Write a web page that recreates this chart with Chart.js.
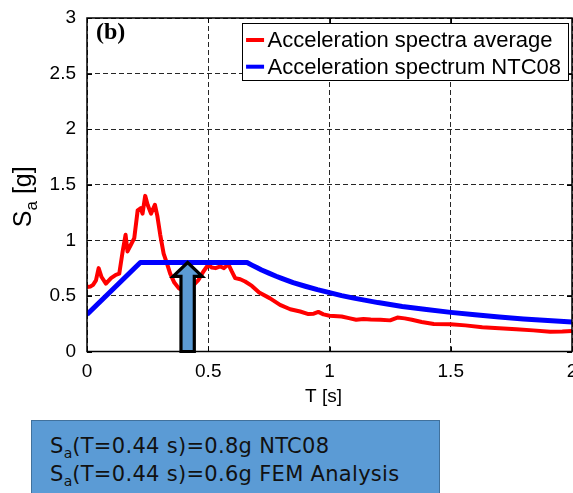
<!DOCTYPE html>
<html><head><meta charset="utf-8">
<script src="https://cdn.jsdelivr.net/npm/chart.js@4.4.1/dist/chart.umd.min.js"></script>
<style>
html,body{margin:0;padding:0;background:#fff;overflow:hidden;width:573px;height:493px;}
#wrap{position:absolute;left:0;top:0;width:577px;height:493px;}
#note{position:absolute;left:31px;top:420px;width:409px;height:90px;background:#5B9BD5;border:1px solid #41719C;box-sizing:border-box;font-family:"DejaVu Sans";font-size:21px;letter-spacing:0.3px;color:#111;}
#note .t{position:absolute;left:18px;top:11px;line-height:28.4px;white-space:nowrap;}
#note sub{font-size:14px;vertical-align:-5px;line-height:0;letter-spacing:0;}
</style></head>
<body>
<div id="wrap"><canvas id="c"></canvas></div>
<div id="note"><div class="t">S<sub>a</sub>(T=0.44 s)=0.8g NTC08<br>S<sub>a</sub>(T=0.44 s)=0.6g FEM Analysis</div></div>
<script>
// ---- data ----
const avgPeriods = [0.000,0.015,0.025,0.037,0.048,0.060,0.078,0.099,0.119,0.133,0.147,0.159,0.167,0.181,0.195,0.209,0.222,0.229,0.240,0.250,0.264,0.280,0.290,0.302,0.316,0.330,0.343,0.360,0.378,0.395,0.420,0.440,0.460,0.480,0.500,0.515,0.530,0.550,0.565,0.583,0.597,0.611,0.632,0.652,0.680,0.710,0.755,0.796,0.838,0.879,0.913,0.935,0.954,0.975,1.000,1.050,1.080,1.110,1.140,1.170,1.210,1.250,1.280,1.310,1.340,1.380,1.430,1.500,1.560,1.630,1.700,1.770,1.840,1.910,1.960,2.000];
const avgSa = [0.58,0.585,0.60,0.64,0.75,0.67,0.61,0.66,0.69,0.70,0.90,1.05,0.90,0.96,1.02,1.27,1.29,1.24,1.40,1.32,1.24,1.32,1.22,1.05,0.88,0.79,0.70,0.62,0.57,0.55,0.56,0.60,0.645,0.72,0.78,0.755,0.75,0.765,0.75,0.785,0.72,0.66,0.65,0.63,0.59,0.53,0.478,0.42,0.38,0.36,0.337,0.34,0.356,0.334,0.322,0.315,0.30,0.285,0.292,0.288,0.285,0.28,0.305,0.298,0.285,0.265,0.247,0.245,0.235,0.218,0.21,0.20,0.19,0.178,0.18,0.184];
const ntcPeriods = [0.00,0.22,0.66,0.68,0.70,0.72,0.75,0.78,0.80,0.85,0.90,0.95,1.00,1.05,1.10,1.20,1.30,1.40,1.50,1.60,1.70,1.80,1.90,2.00];
const ntcSa = [0.333,0.80,0.80,0.777,0.755,0.733,0.705,0.677,0.66,0.62,0.587,0.556,0.53,0.503,0.48,0.44,0.405,0.377,0.352,0.33,0.31,0.293,0.278,0.265];
const seriesLabels = ['Acceleration spectra average','Acceleration spectrum NTC08'];
const xTickValues = [0,0.5,1,1.5,2];
const yTickValues = [0,0.5,1,1.5,2,2.5,3];
const xTitle = 'T [s]';
const arrowPeriod = 0.415;   // s
const arrowSa = 0.8;         // g (NTC08 value at T=0.44 s)
const panelLabel = '(b)';

const toPts = (xs, ys) => xs.map((x, i) => ({x: x, y: ys[i]}));

const framePlugin = {
  id: 'frame',
  afterDatasetsDraw(chart) {
    const ctx = chart.ctx;
    const xs = chart.scales.x, ys = chart.scales.y;
    const cx = xs.getPixelForValue(arrowPeriod);
    const halfShaft = xs.getPixelForValue(arrowPeriod + 0.0275) - cx;
    const halfHead = xs.getPixelForValue(arrowPeriod + 0.06) - cx;
    const tipY = ys.getPixelForValue(arrowSa);
    const baseY = ys.getPixelForValue(arrowSa - 0.125);
    const botY = ys.getPixelForValue(0);
    ctx.save();
    ctx.beginPath();
    ctx.moveTo(cx - halfShaft, botY);
    ctx.lineTo(cx - halfShaft, baseY);
    ctx.lineTo(cx - halfHead, baseY);
    ctx.lineTo(cx, tipY);
    ctx.lineTo(cx + halfHead, baseY);
    ctx.lineTo(cx + halfShaft, baseY);
    ctx.lineTo(cx + halfShaft, botY);
    ctx.closePath();
    ctx.fillStyle = '#5B9BD5';
    ctx.fill();
    ctx.lineWidth = 3.2;
    ctx.lineJoin = 'miter';
    ctx.strokeStyle = '#000';
    ctx.stroke();
    ctx.restore();
  },
  afterDraw(chart) {
    const ctx = chart.ctx, a = chart.chartArea;
    const xs = chart.scales.x, ys = chart.scales.y;
    ctx.save();
    ctx.strokeStyle = '#000';
    ctx.lineWidth = 1.5;
    ctx.strokeRect(a.left, a.top, a.right - a.left, a.bottom - a.top);
    ctx.lineWidth = 1;
    ctx.beginPath();
    xTickValues.forEach(v => {
      const p = Math.round(xs.getPixelForValue(v)) + 0.5;
      ctx.moveTo(p, a.bottom); ctx.lineTo(p, a.bottom - 5);
      ctx.moveTo(p, a.top); ctx.lineTo(p, a.top + 5);
    });
    yTickValues.forEach(v => {
      const p = Math.round(ys.getPixelForValue(v)) + 0.5;
      ctx.moveTo(a.left, p); ctx.lineTo(a.left + 5, p);
      ctx.moveTo(a.right, p); ctx.lineTo(a.right - 5, p);
    });
    ctx.stroke();
    // panel label
    ctx.fillStyle = '#000';
    ctx.font = 'bold 24px "Liberation Serif"';
    ctx.textBaseline = 'middle';
    ctx.textAlign = 'left';
    ctx.fillText(panelLabel, a.left + 9, a.top + 15);
    // x axis title
    ctx.font = '19px "Liberation Sans"';
    ctx.textAlign = 'center';
    ctx.fillText(xTitle, (a.left + a.right) / 2 - 6, a.bottom + 45.5);
    ctx.textAlign = 'left';
    // legend
    ctx.font = '22px "Liberation Sans"';
    const tw = Math.max(...seriesLabels.map(s => ctx.measureText(s).width));
    const bw = 4 + 18 + 3.5 + tw + 7;
    const bx = a.right - 4 - bw, by = a.top + 5, bh = 57;
    ctx.fillStyle = '#fff';
    ctx.fillRect(bx, by, bw, bh);
    ctx.lineWidth = 1;
    ctx.strokeStyle = '#000';
    ctx.strokeRect(Math.round(bx) + 0.5, Math.round(by) + 0.5, Math.round(bw), bh);
    chart.data.datasets.forEach((ds, i) => {
      const ry = by + 17 + i * 26.7;
      ctx.strokeStyle = ds.borderColor;
      ctx.lineWidth = 4;
      ctx.beginPath();
      ctx.moveTo(bx + 4, ry); ctx.lineTo(bx + 22, ry);
      ctx.stroke();
      ctx.fillStyle = '#000';
      ctx.fillText(ds.label, bx + 25.5, ry + 1);
    });
    // y axis title with subscript
    ctx.translate(31, (a.top + a.bottom) / 2 + 12);
    ctx.rotate(-Math.PI / 2);
    ctx.textBaseline = 'alphabetic';
    ctx.textAlign = 'left';
    const f1 = '25px "Liberation Sans"', f2 = '17px "Liberation Sans"';
    ctx.font = f1; const w1 = ctx.measureText('S').width;
    ctx.font = f2; const w2 = ctx.measureText('a').width;
    ctx.font = f1; const w3 = ctx.measureText(' [g]').width;
    const x0 = -(w1 + w2 + w3) / 2;
    ctx.fillStyle = '#000';
    ctx.font = f1; ctx.fillText('S', x0, 0);
    ctx.font = f2; ctx.fillText('a', x0 + w1, 6);
    ctx.font = f1; ctx.fillText(' [g]', x0 + w1 + w2, 0);
    ctx.restore();
  }
};

const tickFont = {family: 'Liberation Sans', size: 19};
new Chart(document.getElementById('c'), {
  type: 'line',
  data: {
    datasets: [
      {label: seriesLabels[0], data: toPts(avgPeriods, avgSa), borderColor: '#ff0000', borderWidth: 4, pointRadius: 0, tension: 0, order: 1, borderJoinStyle: 'round'},
      {label: seriesLabels[1], data: toPts(ntcPeriods, ntcSa), borderColor: '#0000ff', borderWidth: 5, pointRadius: 0, tension: 0, order: 0, borderJoinStyle: 'round'}
    ]
  },
  options: {
    responsive: true,
    maintainAspectRatio: false,
    animation: false,
    devicePixelRatio: 1,
    events: [],
    layout: {padding: {left: 0, top: 18, right: 5, bottom: 101.7}},
    plugins: {legend: {display: false}, tooltip: {enabled: false}},
    scales: {
      x: {
        type: 'linear', min: 0, max: 2,
        afterBuildTicks: s => { s.ticks = xTickValues.map(v => ({value: v})); },
        afterFit: s => { s.paddingLeft = 0; s.paddingRight = 0; },
        ticks: {font: tickFont, color: '#000', padding: 8.5, maxRotation: 0, callback: v => String(v)},
        grid: {color: 'rgba(0,0,0,0.85)', lineWidth: 1, drawTicks: false},
        border: {display: false, dash: [5, 3]},
        title: {display: false}
      },
      y: {
        type: 'linear', min: 0, max: 3,
        afterBuildTicks: s => { s.ticks = yTickValues.map(v => ({value: v})); },
        afterFit: s => { s.width = 87; s.paddingTop = 0; s.paddingBottom = 0; },
        ticks: {font: tickFont, color: '#000', padding: 11, callback: v => String(v)},
        grid: {color: 'rgba(0,0,0,0.85)', lineWidth: 1, drawTicks: false},
        border: {display: false, dash: [5, 3]}
      }
    }
  },
  plugins: [framePlugin]
});
</script>
</body></html>
